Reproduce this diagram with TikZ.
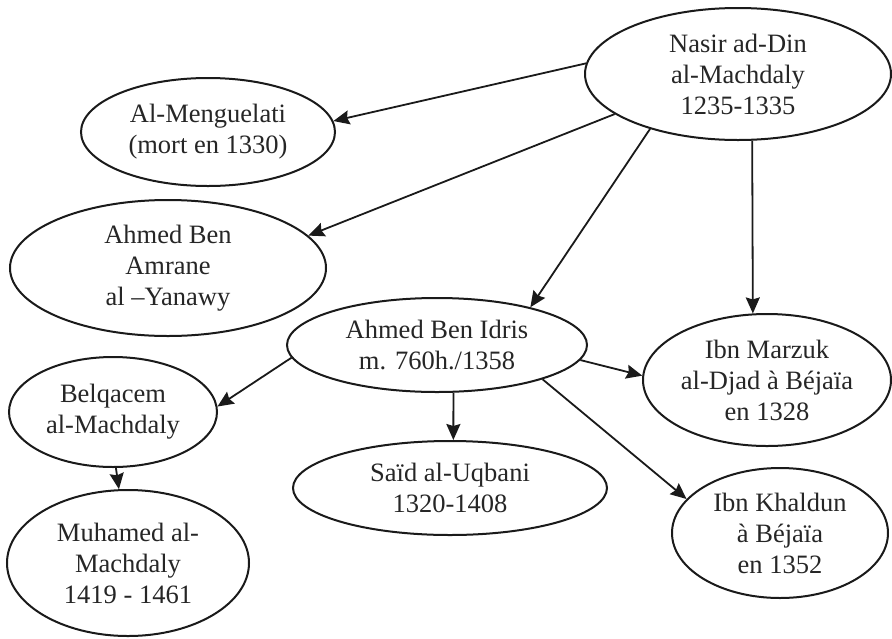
\documentclass[tikz,border=0pt]{standalone}
\usepackage{fontspec}
\setmainfont{Liberation Serif}
\usetikzlibrary{shapes.geometric,arrows.meta}
\definecolor{ink}{HTML}{1A1A1A}
\definecolor{txt}{HTML}{262626}
\tikzset{
  pers/.style={ellipse, draw=ink, line width=2pt, inner sep=0pt, align=center,
    text=txt, font=\fontsize{26.5}{31}\selectfont},
  link/.style={draw=ink, line width=1.8pt, -{Stealth[length=16pt,width=14pt,inset=2pt]}}
}
\begin{document}
\begin{tikzpicture}[x=1pt,y=-1pt]
\useasboundingbox[fill=white] (0,0) rectangle (892,638);
\node[pers, minimum width=306, minimum height=132] (nasir) at (738,74) {Nasir ad-Din\\al-Machdaly\\1235-1335};
\node[pers, minimum width=254, minimum height=108] (meng) at (208,132) {Al-Menguelati\\(mort en 1330)};
\node[pers, minimum width=316, minimum height=136] (amrane) at (168,268) {Ahmed Ben\\Amrane\\al –Yanawy};
\node[pers, minimum width=300, minimum height=94] (idris) at (437,345) {Ahmed Ben Idris\\m. 760h./1358};
\node[pers, minimum width=248, minimum height=132] (marzuk) at (767,380) {Ibn Marzuk\\al-Djad à Béjaïa\\en 1328};
\node[pers, minimum width=208, minimum height=110] (belq) at (113,412) {Belqacem\\al-Machdaly};
\node[pers, minimum width=314, minimum height=94] (said) at (450,488) {Saïd al-Uqbani\\1320-1408};
\node[pers, minimum width=216, minimum height=130] (khaldun) at (780,533) {Ibn Khaldun\\à Béjaïa\\en 1352};
\node[pers, minimum width=242, minimum height=146] (muhamed) at (128,563) {Muhamed al-\\Machdaly\\1419 - 1461};

\draw[link] (nasir.176) -- (meng.5);
\draw[link] (nasir.198) -- (amrane.13);
\draw[link] (nasir.212) -- (idris.22);
\draw[link] (nasir.282) -- (marzuk.102);
\draw[link] (idris.185) -- (belq.3);
\draw[link] (idris.289) -- (said.86);
\draw[link] (idris.354) -- (marzuk.178);
\draw[link] (idris.342) -- (khaldun.160);
\draw[link] (belq.273) -- (muhamed.97);
\end{tikzpicture}
\end{document}
